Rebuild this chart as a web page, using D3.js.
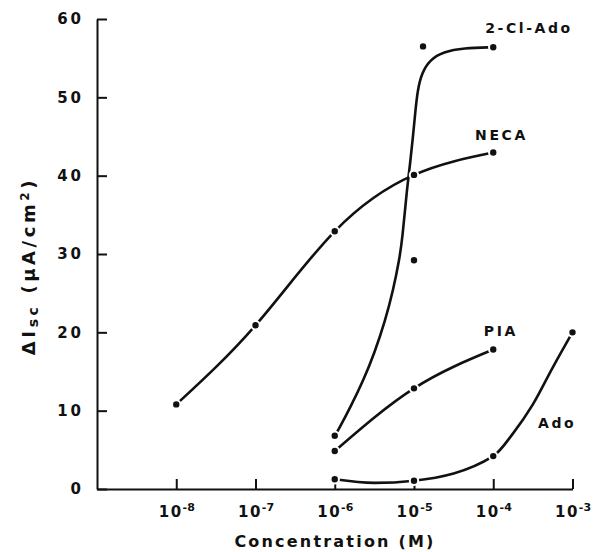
<!DOCTYPE html>
<html>
<head>
<meta charset="utf-8">
<script src="https://cdn.jsdelivr.net/npm/d3@7"></script>
<style>
  html, body { margin: 0; padding: 0; background: #fff; }
  text { font-family: "DejaVu Sans", sans-serif; font-weight: bold; fill: #111; }
</style>
</head>
<body>
<div id="chart"></div>
<script>
// measured points (concentration in M, delta Isc in uA/cm2)
var necaConc = [1e-8, 1e-7, 1e-6, 1e-5, 1e-4],
    necaVals = [10.8, 20.9, 32.9, 40.1, 42.95];
var clAdoConc = [1e-6, 1e-5, 1.3e-5, 1e-4],
    clAdoVals = [6.8, 29.2, 56.5, 56.4];
var piaConc = [1e-6, 1e-5, 1e-4],
    piaVals = [4.85, 12.85, 17.8];
var adoConc = [1e-6, 1e-5, 1e-4, 1e-3],
    adoVals = [1.24, 1.06, 4.2, 20.0];

// hand drawn curves that do not go through the points
// (log10 of concentration, value)
var clAdoCurveLog = [-6, -5.955, -5.799, -5.637, -5.5, -5.361, -5.262, -5.187, -5.148, -5.09, -5.048, -5.014, -4.985, -4.955, -4.903, -4.798, -4.63, -4.378, -4.0],
    clAdoCurveVals = [6.8, 7.53, 10.51, 13.92, 17.32, 21.57, 25.4, 29.2, 31.8, 38.2, 41.6, 44.9, 48.0, 50.9, 53.1, 54.8, 55.8, 56.3, 56.4];
var adoCurveLog = [-6, -5.5, -5, -4, -3.75, -3.5, -3.25, -3],
    adoCurveVals = [1.24, 0.78, 1.06, 4.2, 7.1, 10.8, 15.5, 20.0];

var seriesNames = ["2-Cl-Ado", "NECA", "PIA", "Ado"];
var xTicks = [1e-8, 1e-7, 1e-6, 1e-5, 1e-4, 1e-3],
    yTicks = [0, 10, 20, 30, 40, 50, 60];

var width = 594, height = 552;

var svg = d3.select("#chart").append("svg")
    .attr("width", width)
    .attr("height", height);

var x = d3.scaleLog().domain([1e-9, 1e-3]).range([97, 572.5]);
var y = d3.scaleLinear().domain([0, 60]).range([489, 19]);

// axes
var yAxis = svg.append("g")
    .attr("transform", "translate(" + x(1e-9) + ",0)")
    .call(d3.axisLeft(y).tickValues(yTicks).tickSizeInner(-10).tickSizeOuter(0).tickPadding(13));
yAxis.selectAll("text")
    .style("font-size", "15px")
    .style("letter-spacing", "3px");

var xAxis = svg.append("g")
    .attr("transform", "translate(0," + y(0) + ")")
    .call(d3.axisBottom(x).tickValues(xTicks).tickSizeInner(-10).tickSizeOuter(0).tickFormat(""));

xAxis.selectAll(".tick").append("text")
    .attr("y", 28)
    .attr("text-anchor", "middle")
    .style("font-size", "15px")
    .each(function(d) {
        var t = d3.select(this);
        t.append("tspan").text("10").style("letter-spacing", "1.5px");
        t.append("tspan")
            .attr("dy", -6)
            .style("font-size", "11px")
            .text("-" + Math.round(-Math.log10(d)));
    });

svg.selectAll(".domain, .tick line")
    .attr("stroke", "#111")
    .attr("stroke-width", 2);

// titles
svg.append("text")
    .attr("x", 335)
    .attr("y", 547)
    .attr("text-anchor", "middle")
    .style("font-size", "16px")
    .style("letter-spacing", "2.2px")
    .text("Concentration (M)");

var yt = svg.append("text")
    .attr("transform", "translate(35,266) rotate(-90)")
    .attr("text-anchor", "middle")
    .style("font-size", "18px")
    .style("letter-spacing", "3.6px");
yt.append("tspan").text("\u0394I");
yt.append("tspan").attr("dy", 3).style("font-size", "14px").text("sc");
yt.append("tspan").attr("dy", -3).text(" (\u03bcA/cm");
yt.append("tspan").attr("dy", -6).style("font-size", "12px").text("2");
yt.append("tspan").attr("dy", 6).text(")");

// curves
function lineWith(curve, toConc) {
    return d3.line()
        .x(function(d) { return x(toConc(d[0])); })
        .y(function(d) { return y(d[1]); })
        .curve(curve);
}
var fromLog = function(v) { return Math.pow(10, v); },
    asIs = function(v) { return v; };

var curves = [
    { pts: d3.zip(clAdoCurveLog, clAdoCurveVals), gen: lineWith(d3.curveBasis, fromLog) },
    { pts: d3.zip(necaConc, necaVals), gen: lineWith(d3.curveNatural, asIs) },
    { pts: d3.zip(piaConc, piaVals), gen: lineWith(d3.curveNatural, asIs) },
    { pts: d3.zip(adoCurveLog, adoCurveVals), gen: lineWith(d3.curveMonotoneX, fromLog) }
];

svg.append("g").selectAll("path")
    .data(curves)
    .enter().append("path")
    .attr("d", function(c) { return c.gen(c.pts); })
    .attr("fill", "none")
    .attr("stroke", "#111")
    .attr("stroke-width", 2.6);

// points
var points = [].concat(
    d3.zip(clAdoConc, clAdoVals),
    d3.zip(necaConc, necaVals),
    d3.zip(piaConc, piaVals),
    d3.zip(adoConc, adoVals)
);

svg.append("g").selectAll("circle")
    .data(points)
    .enter().append("circle")
    .attr("cx", function(d) { return x(d[0]); })
    .attr("cy", function(d) { return y(d[1]); })
    .attr("r", 4.2)
    .attr("fill", "#111")
    .attr("stroke", "#fff")
    .attr("stroke-width", 2);

// series labels, anchored in data units
var labelAt = [[7.9e-5, 58.2], [5.9e-5, 44.6], [7.6e-5, 19.5], [3.67e-4, 7.8]];

svg.append("g").selectAll("text")
    .data(seriesNames)
    .enter().append("text")
    .attr("x", function(d, i) { return x(labelAt[i][0]); })
    .attr("y", function(d, i) { return y(labelAt[i][1]); })
    .style("font-size", "14px")
    .style("letter-spacing", "2.6px")
    .text(function(d) { return d; });
</script>
</body>
</html>
